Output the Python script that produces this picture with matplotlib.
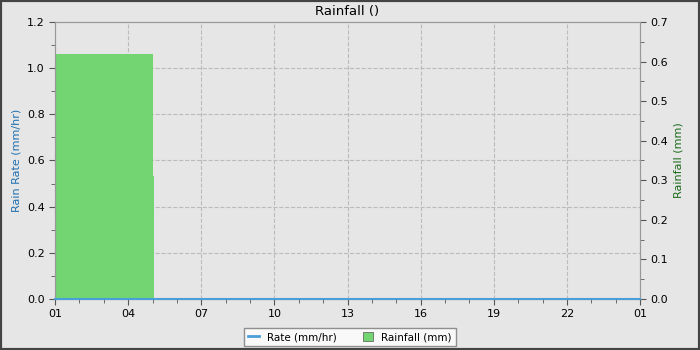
import numpy as np
import matplotlib.pyplot as plt
from matplotlib.ticker import MultipleLocator, FixedLocator

# hours since 01:00
rain_hours = [0.0, 4.0, 4.05, 24.0]
rain_mm = [0.62, 0.31, 0.0, 0.0]
rate_hours = [0.0, 24.0]
rate_mmhr = [0.0, 0.0]
tick_labels = ['01', '04', '07', '10', '13', '16', '19', '22', '01']

bg = '#e6e6e6'
fig = plt.figure(figsize=(7, 3.5), dpi=100, facecolor=bg)
fig.patches.append(plt.Rectangle((0, 0), 1, 1, transform=fig.transFigure,
                                 fill=False, edgecolor='#444444', lw=3))
ax = fig.add_axes([55/700, 1-299/350, 585/700, 277/350], facecolor=bg)
ax2 = ax.twinx()

ax.set_xlim(0, 24)
ax.set_ylim(0, 1.2)
ax2.set_ylim(0, 0.7)
ax.set_zorder(ax2.get_zorder() + 1)
ax.patch.set_visible(False)
ax2.patch.set_visible(True)
ax2.patch.set_facecolor(bg)

# grid drawn on the lower axes so the bars cover it
grid_kw = dict(ls='--', color='#bbbbbb', lw=0.8, zorder=0.5)
for h in np.arange(3, 24, 3):
    ax2.axvline(h, **grid_kw)
for v in np.arange(0.2, 1.2, 0.2):
    ax2.axhline(v * 0.7 / 1.2, **grid_kw)

ax2.fill_between(rain_hours, rain_mm, step='post', color='#72d572', lw=0, zorder=2)
ax.plot(rate_hours, rate_mmhr, color='#4a9fd8', lw=1.5, zorder=5, clip_on=False)

ax.xaxis.set_major_locator(FixedLocator(np.arange(0, 25, 3)))
ax.set_xticklabels(tick_labels)
ax.xaxis.set_minor_locator(MultipleLocator(1))
ax.yaxis.set_major_locator(MultipleLocator(0.2))
ax.yaxis.set_minor_locator(MultipleLocator(0.1))
ax2.yaxis.set_major_locator(MultipleLocator(0.1))
ax2.yaxis.set_minor_locator(MultipleLocator(0.05))

for a in (ax, ax2):
    a.tick_params(labelsize=8, length=4, color='#555555')
    a.tick_params(which='minor', length=3, color='#555555')
    for s in a.spines.values():
        s.set_color('#999999')

ax.set_title('Rainfall ()', fontsize=9.5, pad=5)
ax.set_ylabel('Rain Rate (mm/hr)', fontsize=8, color='#1f6fb0')
ax2.set_ylabel('Rainfall (mm)', fontsize=8, color='#1a6b1a')

h1 = plt.Line2D([], [], color='#4a9fd8', lw=2)
h2 = plt.Rectangle((0, 0), 1, 1, facecolor='#72d572', edgecolor='#555555', lw=0.5)
fig.legend([h1, h2], ['Rate (mm/hr)', 'Rainfall (mm)'], loc='center',
           bbox_to_anchor=(350/700, 1-337/350), ncol=2, fontsize=7.5,
           frameon=True, fancybox=False, edgecolor='#777777', facecolor='white',
           handlelength=1.0, handleheight=0.9, columnspacing=2.5)

fig.savefig('out.png', dpi=100, facecolor=bg)
